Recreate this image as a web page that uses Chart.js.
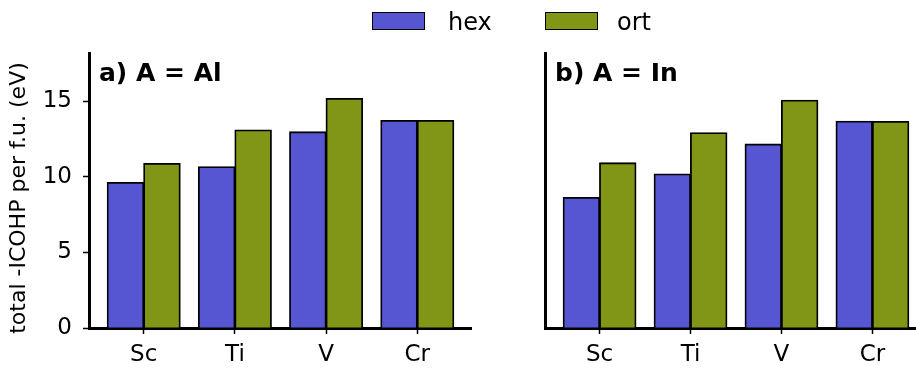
<!DOCTYPE html>
<html>
<head>
<meta charset="utf-8">
<script src="https://cdn.jsdelivr.net/npm/chart.js@4/dist/chart.umd.min.js"></script>
<style>
  html, body { margin: 0; padding: 0; background: #fff; overflow: hidden; width: 916px; height: 370px; }
  .panel { position: absolute; top: 0; height: 370px; }
  .patch { position: absolute; top: 12px; width: 51px; height: 16px; border: 1.5px solid #000; }
  .ltext { position: absolute; top: 10px; font: 24px "DejaVu Sans"; line-height: 24px; color: #000; }
</style>
</head>
<body>
<div class="panel" style="left:0;width:472px"><canvas id="chartA"></canvas></div>
<div class="panel" style="left:471px;width:456px"><canvas id="chartB"></canvas></div>

<div class="patch" style="left:372px;background:#5656d3"></div>
<div class="ltext" style="left:448px">hex</div>
<div class="patch" style="left:545px;background:#819616"></div>
<div class="ltext" style="left:617px">ort</div>

<script>
// valeurs
const categories = ['Sc', 'Ti', 'V', 'Cr'];
const hexAl = [9.63, 10.67, 12.98, 13.74];
const ortAl = [10.89, 13.1, 15.19, 13.74];
const hexIn = [8.64, 10.19, 12.17, 13.69];
const ortIn = [10.93, 12.92, 15.08, 13.67];
const yTicks = [0, 5, 10, 15];

const hexColor = '#5656d3';
const ortColor = '#819616';
const font = '"DejaVu Sans"';

// titre du panneau + titre de l'axe y
const panelText = {
    id: 'panelText',
    afterDraw(chart, args, opts) {
        const ctx = chart.ctx;
        ctx.save();
        ctx.fillStyle = '#000';
        ctx.font = 'bold 25px ' + font;
        ctx.textBaseline = 'alphabetic';
        ctx.fillText(opts.text, chart.chartArea.left + 10, 81);
        if (opts.yTitle) {
            ctx.font = '22px ' + font;
            ctx.translate(25, 198);
            ctx.rotate(-Math.PI / 2);
            ctx.textAlign = 'center';
            ctx.fillText(opts.yTitle, 0, 0);
        }
        ctx.restore();
    }
};

function makeChart(id, hexVals, ortVals, label, showY, yWidth) {
    const toPts = vals => vals.map((v, i) => ({ x: i, y: v }));
    return new Chart(document.getElementById(id), {
        type: 'bar',
        data: {
            datasets: [
                { label: 'hex', data: toPts(hexVals), backgroundColor: hexColor, borderColor: '#000', borderWidth: 1.8, inflateAmount: 0.5 },
                { label: 'ort', data: toPts(ortVals), backgroundColor: ortColor, borderColor: '#000', borderWidth: 1.8, inflateAmount: 0.5 }
            ]
        },
        options: {
            responsive: true,
            maintainAspectRatio: false,
            animation: false,
            layout: { padding: { top: 53, left: 0, right: 0, bottom: 0 } },
            datasets: { bar: { categoryPercentage: 0.8, barPercentage: 1.0 } },
            plugins: {
                legend: { display: false },
                tooltip: { enabled: false },
                panelText: { text: label, yTitle: showY ? 'total -ICOHP per f.u. (eV)' : null }
            },
            scales: {
                x: {
                    type: 'linear',
                    min: -0.6,
                    max: 3.6,
                    offset: false,
                    afterBuildTicks: s => { s.ticks = categories.map((c, i) => ({ value: i })); },
                    afterFit: s => { s.height = 42; },
                    grid: { offset: false, drawOnChartArea: false, drawTicks: true, tickLength: 6, tickWidth: 1.5, tickColor: '#000' },
                    border: { display: true, color: '#000', width: 3 },
                    ticks: {
                        color: '#000',
                        padding: 7,
                        font: { family: font, size: 23 },
                        callback: v => categories[v]
                    }
                },
                y: {
                    min: 0,
                    max: 18.2,
                    afterBuildTicks: s => { s.ticks = yTicks.map(v => ({ value: v })); },
                    afterFit: s => { s.width = yWidth; },
                    grid: { drawOnChartArea: false, drawTicks: showY, tickLength: 6, tickWidth: 1.5, tickColor: '#000' },
                    border: { display: true, color: '#000', width: 3 },
                    ticks: {
                        display: showY,
                        color: '#000',
                        padding: 11,
                        font: { family: font, size: 23 }
                    }
                }
            }
        },
        plugins: [panelText]
    });
}

makeChart('chartA', hexAl, ortAl, 'a) A = Al', true, 89);
makeChart('chartB', hexIn, ortIn, 'b) A = In', false, 74);
</script>
</body>
</html>
